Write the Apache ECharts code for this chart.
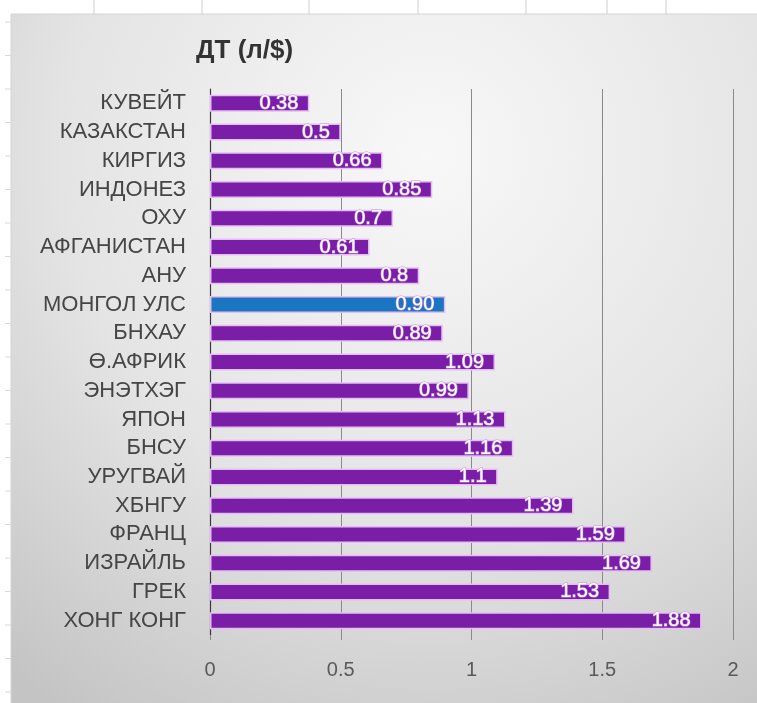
<!DOCTYPE html>
<html>
<head>
<meta charset="utf-8">
<script src="https://cdn.jsdelivr.net/npm/echarts@6/dist/echarts.min.js"></script>
<style>
html,body{margin:0;padding:0;background:#ffffff;}
#c{width:757px;height:703px;}
</style>
</head>
<body>
<div id="c"></div>
<script>
var title = 'ДТ (л/$)';
var categories = ['КУВЕЙТ','КАЗАКСТАН','КИРГИЗ','ИНДОНЕЗ','ОХУ','АФГАНИСТАН','АНУ','МОНГОЛ УЛС','БНХАУ','Ө.АФРИК','ЭНЭТХЭГ','ЯПОН','БНСУ','УРУГВАЙ','ХБНГУ','ФРАНЦ','ИЗРАЙЛЬ','ГРЕК','ХОНГ КОНГ'];
var values = [0.38,0.5,0.66,0.85,0.7,0.61,0.8,0.90,0.89,1.09,0.99,1.13,1.16,1.1,1.39,1.59,1.69,1.53,1.88];
var valueLabels = ['0.38','0.5','0.66','0.85','0.7','0.61','0.8','0.90','0.89','1.09','0.99','1.13','1.16','1.1','1.39','1.59','1.69','1.53','1.88'];
var highlightCategory = 'МОНГОЛ УЛС';
var xTicks = [0,0.5,1,1.5,2];

var purple = '#7a1ea8';
var blue = '#1a76c0';

var chart = echarts.init(document.getElementById('c'), null, {renderer:'canvas'});

var sheetLinesX = [94,202,309,418,526,607,666];
var graphics = [];
sheetLinesX.forEach(function(x){
  graphics.push({type:'line', silent:true, z:-10, shape:{x1:x,y1:0,x2:x,y2:14}, style:{stroke:'#cfcfcf', lineWidth:1}});
});
for (var yy = 22; yy < 703; yy += 33.5) {
  graphics.push({type:'line', silent:true, z:-10, shape:{x1:5,y1:yy,x2:11,y2:yy}, style:{stroke:'#d8d8d8', lineWidth:1}});
}
graphics.push({
  type:'rect', silent:true, z:-20,
  shape:{x:11, y:14, width:760, height:700},
  style:{
    fill:{type:'radial', x:0.55, y:0.2, r:0.95,
      colorStops:[{offset:0,color:'#f8f8f8'},{offset:0.55,color:'#e4e4e4'},{offset:1,color:'#c4c4c4'}]},
    stroke:'#d4d4d4', lineWidth:1
  }
});

var option = {
  backgroundColor:'#ffffff',
  animation:false,
  title:{
    text:title, left:191, top:33,
    textStyle:{fontFamily:'Liberation Sans, Arial, sans-serif', fontSize:26, fontWeight:'bold', color:'#333333'}
  },
  graphic: graphics,
  grid:{left:210, right:24, top:89, bottom:68, containLabel:false},
  xAxis:{
    type:'value', min:0, max:2, interval:0.5,
    axisLine:{show:false},
    axisTick:{show:true, length:5, lineStyle:{color:'#8a8a8a'}},
    splitLine:{show:true, lineStyle:{color:'#8a8a8a', width:1}},
    axisLabel:{
      margin:25, color:'#5a5a5a', fontSize:20,
      fontFamily:'Liberation Sans, Arial, sans-serif',
      formatter:function(v){ return String(v); }
    }
  },
  yAxis:{
    type:'category', data:categories, inverse:true,
    axisLine:{show:true, lineStyle:{color:'#3a3a3a', width:1.2}},
    axisTick:{show:false},
    axisLabel:{
      margin:24, color:'#454545', fontSize:22,
      fontFamily:'Liberation Sans, Arial, sans-serif'
    }
  },
  series:[{
    type:'bar',
    data: values.map(function(v,i){
      return {value:v, itemStyle:{color: categories[i]===highlightCategory ? blue : purple}};
    }),
    barWidth:17,
    itemStyle:{borderColor:'#e6bdf3', borderWidth:1.5},
    label:{
      show:true, position:'insideRight', distance:11,
      formatter:function(p){ return valueLabels[p.dataIndex]; },
      color:'#ffffff', fontSize:20,
      fontFamily:'Liberation Sans, Arial, sans-serif',
      textBorderColor:'#c890e0', textBorderWidth:1.2
    }
  }]
};
chart.setOption(option);
</script>
</body>
</html>
